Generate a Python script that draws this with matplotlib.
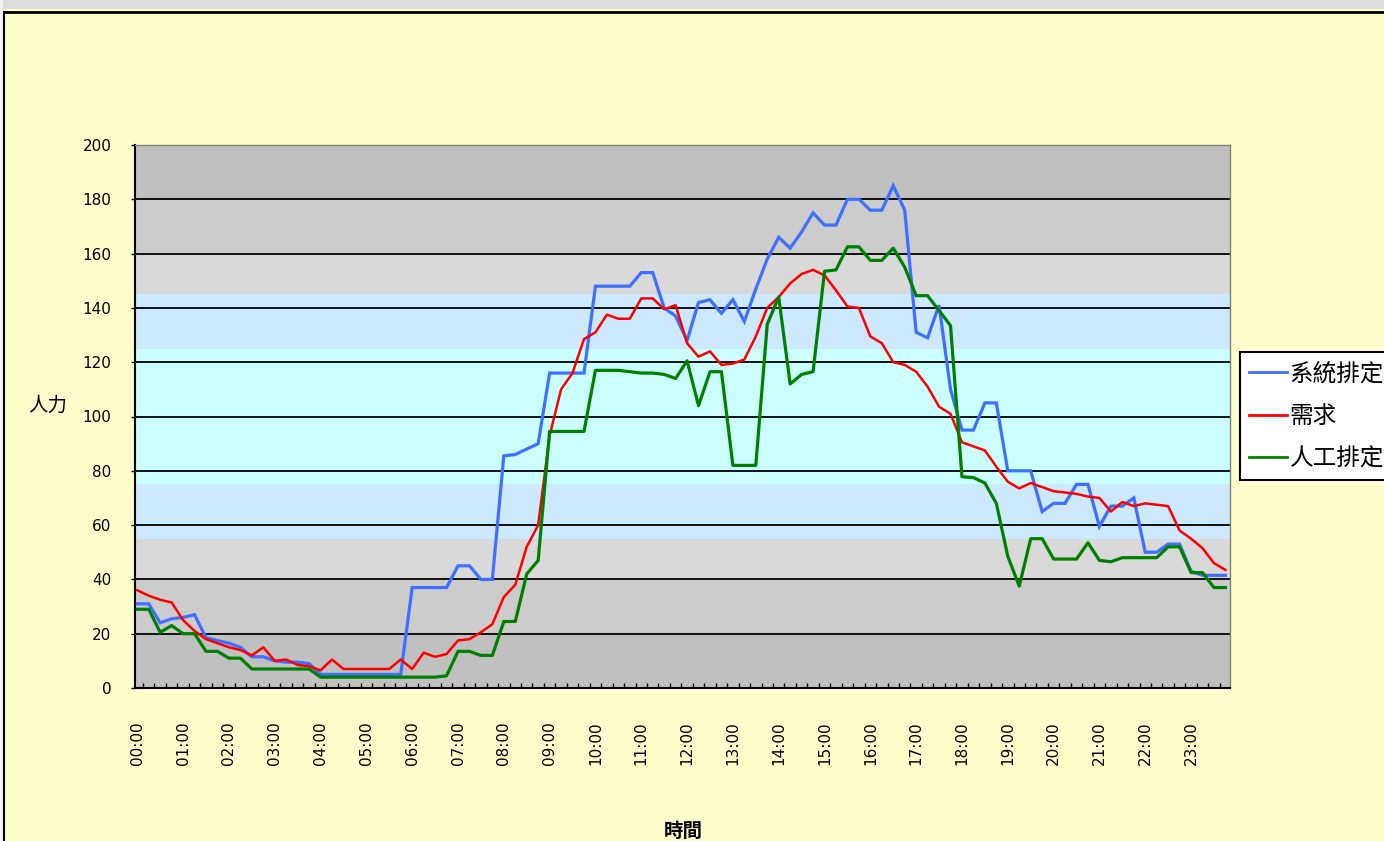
import matplotlib
matplotlib.use('Agg')
import matplotlib.pyplot as plt
from matplotlib.patches import Rectangle
from matplotlib.lines import Line2D

plt.rcParams['font.family'] = ['DejaVu Sans', 'Noto Sans CJK TC']

# ---- data ----
hours = list(range(24))
slots = [f"{h:02d}:{m:02d}" for h in hours for m in (0, 15, 30, 45)]
tick_labels = [f"{h:02d}:00" for h in hours]

series_names = ['系統排定', '需求', '人工排定']

system_schedule = [
    31, 31, 24, 25.5, 26, 27, 18.5, 17.5, 16.5, 15, 11.5, 11.5, 10, 9.5, 9.5, 9,
    5, 5, 5, 5, 5, 5, 5, 5,
    37, 37, 37, 37, 45, 45, 40, 40,
    85.5, 86, 88, 90, 116, 116, 116, 116,
    148, 148, 148, 148, 153, 153, 140, 137,
    128, 142, 143, 138, 143, 135, 147, 158,
    166, 162, 168, 175, 170.5, 170.5, 180, 180,
    176, 176, 185, 176, 131, 129, 141, 110,
    95, 95, 105, 105, 80, 80, 80, 65,
    68, 68, 75, 75, 59.5, 67, 67, 70,
    50, 50, 53, 53, 43, 41.5, 41.5, 41.5,
]

demand = [
    36, 34, 32.5, 31.5, 25, 21, 18, 16.5, 15, 14, 12, 15, 10, 10.5, 8.5, 8,
    6.5, 10.5, 7, 7, 7, 7, 7, 10.5,
    7, 13, 11.5, 12.5, 17.5, 18, 20.5, 23.5,
    33.5, 38, 52, 60, 93, 110, 116, 128.5,
    131, 137.5, 136, 136, 143.5, 143.5, 139.5, 141,
    127, 122, 124, 119, 119.5, 121, 129.5, 140,
    144, 149, 152.5, 154, 152, 146.5, 140.5, 140,
    129.5, 127, 120, 119, 116.5, 111, 103.6, 101,
    90.5, 89, 87.5, 81.5, 76, 73.5, 75.5, 74,
    72.5, 72, 71.5, 70.5, 70, 65, 68.5, 67,
    68, 67.5, 67, 58, 55, 51.5, 46, 43.5,
]

manual_schedule = [
    29, 29, 20.5, 23, 20, 20, 13.5, 13.5, 11, 11, 7, 7, 7, 7, 7, 7,
    4, 4, 4, 4, 4, 4, 4, 4,
    4, 4, 4, 4.5, 13.5, 13.5, 12, 12,
    24.5, 24.5, 42, 47, 94.5, 94.5, 94.5, 94.5,
    117, 117, 117, 116.5, 116, 116, 115.5, 114,
    120.5, 104, 116.5, 116.5, 82, 82, 82, 134,
    144, 112, 115.5, 116.5, 153.5, 154, 162.5, 162.5,
    157.5, 157.5, 162, 155, 144.5, 144.5, 139, 133.5,
    77.8, 77.5, 75.5, 68, 48.5, 37.5, 55, 55,
    47.5, 47.5, 47.5, 53.5, 47, 46.5, 48, 48,
    48, 48, 52, 52, 42.5, 42.5, 37, 37,
]

# ---- figure ----
W, H = 1384, 841
fig = plt.figure(figsize=(W / 100, H / 100), dpi=100, facecolor='#ffffcc')
ax = fig.add_axes([135 / W, (H - 688) / H, 1095 / W, 543 / H])

bands = [(0, 20, '#c0c0c0'), (20, 40, '#cccccc'), (40, 55, '#d9d9d9'),
         (55, 75, '#cce9ff'), (75, 125, '#ccffff'), (125, 145, '#cce9ff'),
         (145, 160, '#d9d9d9'), (160, 180, '#cccccc'), (180, 200, '#c0c0c0')]
for lo, hi, c in bands:
    ax.axhspan(lo, hi, color=c, lw=0, zorder=0)

ax.set_ylim(0, 200)
ax.set_xlim(-0.2, 95.4)
for v in range(20, 200, 20):
    ax.axhline(v, color='#111111', lw=1.4, zorder=1)

x = list(range(len(slots)))
l1, = ax.plot(x, system_schedule, color='#3f6fff', lw=2.3, zorder=3, solid_joinstyle='miter')
l2, = ax.plot(x, demand, color='#ff0000', lw=1.8, zorder=3)
l3, = ax.plot(x, manual_schedule, color='#008000', lw=2.3, zorder=4)

# x axis
ax.set_xticks(x[::4])
ax.set_xticklabels(tick_labels, rotation=90, fontsize=11)
ax.tick_params(axis='x', which='major', length=0, pad=24)
ax.set_xticks([i + 0.5 for i in range(95)], minor=True)
ax.tick_params(axis='x', which='minor', direction='in', length=3.5, width=1, color='black')

# y axis
ax.set_yticks(range(0, 201, 20))
ax.tick_params(axis='y', direction='out', length=3, width=1, pad=14, labelsize=11)

for s in ('left', 'bottom'):
    ax.spines[s].set_color('black')
    ax.spines[s].set_linewidth(1.5)
for s in ('top', 'right'):
    ax.spines[s].set_color('#808080')
    ax.spines[s].set_linewidth(1)

ax.set_ylabel('人力', rotation=0, fontsize=14)
ax.yaxis.set_label_coords((48 - 135) / 1095, (688 - 415) / 543)
ax.set_xlabel('時間', fontsize=14, fontweight='bold')
ax.xaxis.set_label_coords((683 - 135) / 1095, (688 - 822) / 543)

leg = fig.legend([l1, l2, l3], series_names, loc='upper left',
                 bbox_to_anchor=(1240 / W, 1 - 352 / H), bbox_transform=fig.transFigure,
                 fontsize=17, frameon=True, fancybox=False, edgecolor='black',
                 framealpha=1, borderpad=0.4, handlelength=1.6, handletextpad=0.1,
                 labelspacing=0.78, borderaxespad=0)
leg.get_frame().set_linewidth(1.5)
for lh in leg.get_lines():
    lh.set_linewidth(2)

# window frame decorations
fig.add_artist(Rectangle((0, 1 - 9 / H), 1, 9 / H, transform=fig.transFigure,
                         facecolor='#dcdcdc', edgecolor='none'))
fig.add_artist(Rectangle((0, 0), 3 / W, 1, transform=fig.transFigure,
                         facecolor='#f4f4f4', edgecolor='none'))
fig.add_artist(Line2D([4 / W, 1], [1 - 12 / H] * 2, transform=fig.transFigure,
                      color='black', lw=2))
fig.add_artist(Line2D([4 / W] * 2, [0, 1 - 12 / H], transform=fig.transFigure,
                      color='black', lw=1.5))

fig.savefig('out.png', dpi=100, facecolor=fig.get_facecolor())
